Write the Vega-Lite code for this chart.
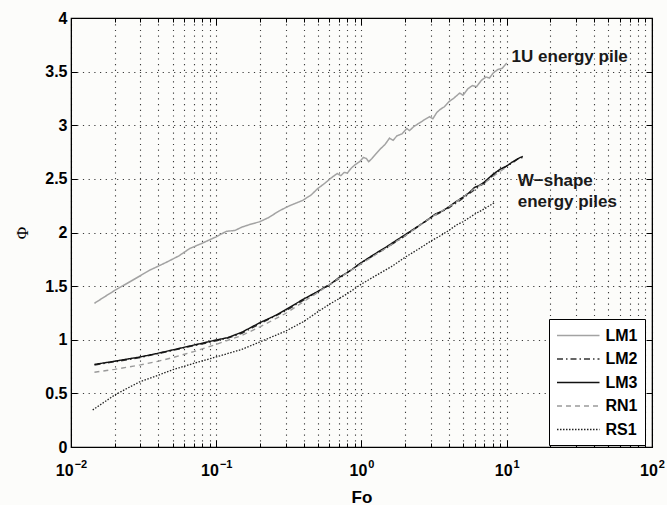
{
  "$schema": "https://vega.github.io/schema/vega-lite/v6.json",
  "width": 581,
  "height": 429,
  "autosize": {"type": "none"},
  "padding": {"left": 71, "top": 18, "right": 15, "bottom": 58},
  "background": "#fcfcfa",
  "config": {
    "view": {"stroke": "#000000", "strokeWidth": 1.2},
    "font": "Liberation Sans",
    "axis": {
      "domainColor": "#000000",
      "tickColor": "#000000",
      "labelColor": "#000000",
      "titleColor": "#000000",
      "gridColor": "#3a3a3a",
      "gridDash": [1.2, 4.5],
      "gridOpacity": 1,
      "gridWidth": 1.1
    }
  },
  "datasets": {
    "curves": [
      {"s": "LM1", "fo": 0.0145, "phi": 1.34}, {"s": "LM1", "fo": 0.017, "phi": 1.40}, {"s": "LM1", "fo": 0.02, "phi": 1.46},
      {"s": "LM1", "fo": 0.0267, "phi": 1.557}, {"s": "LM1", "fo": 0.035, "phi": 1.65}, {"s": "LM1", "fo": 0.045, "phi": 1.72},
      {"s": "LM1", "fo": 0.055, "phi": 1.78}, {"s": "LM1", "fo": 0.0655, "phi": 1.85}, {"s": "LM1", "fo": 0.08, "phi": 1.90},
      {"s": "LM1", "fo": 0.1, "phi": 1.96}, {"s": "LM1", "fo": 0.117, "phi": 2.01}, {"s": "LM1", "fo": 0.135, "phi": 2.02},
      {"s": "LM1", "fo": 0.15, "phi": 2.05}, {"s": "LM1", "fo": 0.175, "phi": 2.08}, {"s": "LM1", "fo": 0.199, "phi": 2.10},
      {"s": "LM1", "fo": 0.23, "phi": 2.14}, {"s": "LM1", "fo": 0.27, "phi": 2.20}, {"s": "LM1", "fo": 0.32, "phi": 2.25},
      {"s": "LM1", "fo": 0.394, "phi": 2.30}, {"s": "LM1", "fo": 0.45, "phi": 2.35}, {"s": "LM1", "fo": 0.5, "phi": 2.41},
      {"s": "LM1", "fo": 0.56, "phi": 2.46}, {"s": "LM1", "fo": 0.62, "phi": 2.51}, {"s": "LM1", "fo": 0.68, "phi": 2.55},
      {"s": "LM1", "fo": 0.72, "phi": 2.53}, {"s": "LM1", "fo": 0.76, "phi": 2.56}, {"s": "LM1", "fo": 0.8, "phi": 2.555},
      {"s": "LM1", "fo": 0.85, "phi": 2.60}, {"s": "LM1", "fo": 0.9, "phi": 2.63}, {"s": "LM1", "fo": 0.97, "phi": 2.66},
      {"s": "LM1", "fo": 1.03, "phi": 2.70}, {"s": "LM1", "fo": 1.08, "phi": 2.69}, {"s": "LM1", "fo": 1.12, "phi": 2.66},
      {"s": "LM1", "fo": 1.18, "phi": 2.69}, {"s": "LM1", "fo": 1.25, "phi": 2.73}, {"s": "LM1", "fo": 1.35, "phi": 2.78},
      {"s": "LM1", "fo": 1.45, "phi": 2.82}, {"s": "LM1", "fo": 1.56, "phi": 2.88}, {"s": "LM1", "fo": 1.65, "phi": 2.86},
      {"s": "LM1", "fo": 1.75, "phi": 2.90}, {"s": "LM1", "fo": 1.9, "phi": 2.92}, {"s": "LM1", "fo": 2.05, "phi": 2.97},
      {"s": "LM1", "fo": 2.14, "phi": 2.95}, {"s": "LM1", "fo": 2.3, "phi": 2.99}, {"s": "LM1", "fo": 2.5, "phi": 3.02},
      {"s": "LM1", "fo": 2.7, "phi": 3.05}, {"s": "LM1", "fo": 2.94, "phi": 3.08}, {"s": "LM1", "fo": 3.1, "phi": 3.06},
      {"s": "LM1", "fo": 3.3, "phi": 3.12}, {"s": "LM1", "fo": 3.5, "phi": 3.15}, {"s": "LM1", "fo": 3.7, "phi": 3.17},
      {"s": "LM1", "fo": 4.0, "phi": 3.22}, {"s": "LM1", "fo": 4.3, "phi": 3.25}, {"s": "LM1", "fo": 4.74, "phi": 3.30},
      {"s": "LM1", "fo": 5.0, "phi": 3.28}, {"s": "LM1", "fo": 5.4, "phi": 3.34}, {"s": "LM1", "fo": 5.8, "phi": 3.37},
      {"s": "LM1", "fo": 6.2, "phi": 3.36}, {"s": "LM1", "fo": 6.7, "phi": 3.42}, {"s": "LM1", "fo": 7.2, "phi": 3.45},
      {"s": "LM1", "fo": 7.6, "phi": 3.44}, {"s": "LM1", "fo": 8.1, "phi": 3.49}, {"s": "LM1", "fo": 8.7, "phi": 3.52},
      {"s": "LM1", "fo": 9.3, "phi": 3.53}, {"s": "LM1", "fo": 10.0, "phi": 3.58},

      {"s": "LM2", "fo": 0.0145, "phi": 0.765}, {"s": "LM2", "fo": 0.02, "phi": 0.795}, {"s": "LM2", "fo": 0.03, "phi": 0.835},
      {"s": "LM2", "fo": 0.05, "phi": 0.90}, {"s": "LM2", "fo": 0.07, "phi": 0.945}, {"s": "LM2", "fo": 0.1, "phi": 0.99},
      {"s": "LM2", "fo": 0.12, "phi": 1.015}, {"s": "LM2", "fo": 0.15, "phi": 1.06}, {"s": "LM2", "fo": 0.2, "phi": 1.15},
      {"s": "LM2", "fo": 0.3, "phi": 1.27}, {"s": "LM2", "fo": 0.4, "phi": 1.37}, {"s": "LM2", "fo": 0.5, "phi": 1.45},
      {"s": "LM2", "fo": 0.7, "phi": 1.57}, {"s": "LM2", "fo": 1.0, "phi": 1.72}, {"s": "LM2", "fo": 1.5, "phi": 1.86},
      {"s": "LM2", "fo": 2.0, "phi": 1.97}, {"s": "LM2", "fo": 3.0, "phi": 2.14}, {"s": "LM2", "fo": 4.0, "phi": 2.23},
      {"s": "LM2", "fo": 5.0, "phi": 2.32}, {"s": "LM2", "fo": 6.0, "phi": 2.40}, {"s": "LM2", "fo": 7.0, "phi": 2.46},
      {"s": "LM2", "fo": 8.0, "phi": 2.53}, {"s": "LM2", "fo": 9.0, "phi": 2.58}, {"s": "LM2", "fo": 10.0, "phi": 2.62},
      {"s": "LM2", "fo": 11.0, "phi": 2.65}, {"s": "LM2", "fo": 12.0, "phi": 2.69}, {"s": "LM2", "fo": 12.9, "phi": 2.70},

      {"s": "LM3", "fo": 0.0145, "phi": 0.77}, {"s": "LM3", "fo": 0.02, "phi": 0.80}, {"s": "LM3", "fo": 0.03, "phi": 0.84},
      {"s": "LM3", "fo": 0.04, "phi": 0.875}, {"s": "LM3", "fo": 0.05, "phi": 0.905}, {"s": "LM3", "fo": 0.07, "phi": 0.95},
      {"s": "LM3", "fo": 0.1, "phi": 0.998}, {"s": "LM3", "fo": 0.12, "phi": 1.02}, {"s": "LM3", "fo": 0.15, "phi": 1.07},
      {"s": "LM3", "fo": 0.2, "phi": 1.16}, {"s": "LM3", "fo": 0.25, "phi": 1.22}, {"s": "LM3", "fo": 0.3, "phi": 1.28},
      {"s": "LM3", "fo": 0.4, "phi": 1.38}, {"s": "LM3", "fo": 0.5, "phi": 1.45}, {"s": "LM3", "fo": 0.6, "phi": 1.51},
      {"s": "LM3", "fo": 0.7, "phi": 1.58}, {"s": "LM3", "fo": 0.85, "phi": 1.65}, {"s": "LM3", "fo": 1.0, "phi": 1.72},
      {"s": "LM3", "fo": 1.2, "phi": 1.79}, {"s": "LM3", "fo": 1.5, "phi": 1.87}, {"s": "LM3", "fo": 1.75, "phi": 1.93},
      {"s": "LM3", "fo": 2.0, "phi": 1.98}, {"s": "LM3", "fo": 2.4, "phi": 2.05}, {"s": "LM3", "fo": 2.8, "phi": 2.11},
      {"s": "LM3", "fo": 3.2, "phi": 2.17}, {"s": "LM3", "fo": 3.6, "phi": 2.20}, {"s": "LM3", "fo": 4.0, "phi": 2.24},
      {"s": "LM3", "fo": 4.5, "phi": 2.29}, {"s": "LM3", "fo": 5.0, "phi": 2.33}, {"s": "LM3", "fo": 5.5, "phi": 2.37},
      {"s": "LM3", "fo": 6.0, "phi": 2.42}, {"s": "LM3", "fo": 6.5, "phi": 2.44}, {"s": "LM3", "fo": 7.0, "phi": 2.47},
      {"s": "LM3", "fo": 8.0, "phi": 2.54}, {"s": "LM3", "fo": 9.0, "phi": 2.59}, {"s": "LM3", "fo": 10.0, "phi": 2.62},
      {"s": "LM3", "fo": 11.0, "phi": 2.66}, {"s": "LM3", "fo": 12.0, "phi": 2.69}, {"s": "LM3", "fo": 12.9, "phi": 2.71},

      {"s": "RN1", "fo": 0.0145, "phi": 0.697}, {"s": "RN1", "fo": 0.02, "phi": 0.724}, {"s": "RN1", "fo": 0.03, "phi": 0.765},
      {"s": "RN1", "fo": 0.04, "phi": 0.80}, {"s": "RN1", "fo": 0.05, "phi": 0.833}, {"s": "RN1", "fo": 0.07, "phi": 0.89},
      {"s": "RN1", "fo": 0.1, "phi": 0.957}, {"s": "RN1", "fo": 0.15, "phi": 1.04}, {"s": "RN1", "fo": 0.2, "phi": 1.12},
      {"s": "RN1", "fo": 0.3, "phi": 1.245}, {"s": "RN1", "fo": 0.4, "phi": 1.355}, {"s": "RN1", "fo": 0.5, "phi": 1.44},
      {"s": "RN1", "fo": 0.7, "phi": 1.575}, {"s": "RN1", "fo": 1.0, "phi": 1.71}, {"s": "RN1", "fo": 1.5, "phi": 1.86},
      {"s": "RN1", "fo": 2.0, "phi": 1.97}, {"s": "RN1", "fo": 3.0, "phi": 2.14}, {"s": "RN1", "fo": 4.0, "phi": 2.24},
      {"s": "RN1", "fo": 5.0, "phi": 2.33}, {"s": "RN1", "fo": 6.0, "phi": 2.41}, {"s": "RN1", "fo": 7.0, "phi": 2.46},
      {"s": "RN1", "fo": 8.0, "phi": 2.52}, {"s": "RN1", "fo": 9.0, "phi": 2.57}, {"s": "RN1", "fo": 10.0, "phi": 2.61},

      {"s": "RS1", "fo": 0.0141, "phi": 0.345}, {"s": "RS1", "fo": 0.017, "phi": 0.42}, {"s": "RS1", "fo": 0.02, "phi": 0.485},
      {"s": "RS1", "fo": 0.025, "phi": 0.555}, {"s": "RS1", "fo": 0.03, "phi": 0.61}, {"s": "RS1", "fo": 0.04, "phi": 0.67},
      {"s": "RS1", "fo": 0.05, "phi": 0.72}, {"s": "RS1", "fo": 0.07, "phi": 0.78}, {"s": "RS1", "fo": 0.1, "phi": 0.84},
      {"s": "RS1", "fo": 0.15, "phi": 0.91}, {"s": "RS1", "fo": 0.2, "phi": 0.98}, {"s": "RS1", "fo": 0.3, "phi": 1.08},
      {"s": "RS1", "fo": 0.4, "phi": 1.17}, {"s": "RS1", "fo": 0.5, "phi": 1.26}, {"s": "RS1", "fo": 0.6, "phi": 1.33},
      {"s": "RS1", "fo": 0.8, "phi": 1.43}, {"s": "RS1", "fo": 1.0, "phi": 1.52}, {"s": "RS1", "fo": 1.3, "phi": 1.61},
      {"s": "RS1", "fo": 1.6, "phi": 1.68}, {"s": "RS1", "fo": 2.0, "phi": 1.77}, {"s": "RS1", "fo": 2.5, "phi": 1.85},
      {"s": "RS1", "fo": 3.0, "phi": 1.92}, {"s": "RS1", "fo": 3.5, "phi": 1.97}, {"s": "RS1", "fo": 4.0, "phi": 2.02},
      {"s": "RS1", "fo": 4.5, "phi": 2.07}, {"s": "RS1", "fo": 5.0, "phi": 2.10}, {"s": "RS1", "fo": 6.0, "phi": 2.17},
      {"s": "RS1", "fo": 7.0, "phi": 2.22}, {"s": "RS1", "fo": 8.26, "phi": 2.28}
    ],
    "notes": [
      {"fo": 10.8, "phi": 3.64, "text": "1U energy pile"},
      {"fo": 11.9, "phi": 2.48, "text": "W−shape"},
      {"fo": 11.9, "phi": 2.285, "text": "energy piles"}
    ]
  },
  "layer": [
    {
      "data": {"name": "curves"},
      "mark": {"type": "line", "interpolate": "linear"},
      "encoding": {
        "x": {
          "field": "fo", "type": "quantitative",
          "scale": {"type": "log", "domain": [0.01, 100], "nice": false},
          "axis": {
            "orient": "bottom",
            "values": [0.01, 0.02, 0.03, 0.04, 0.05, 0.06, 0.07, 0.08, 0.09, 0.1, 0.2, 0.3, 0.4, 0.5, 0.6, 0.7, 0.8, 0.9, 1, 2, 3, 4, 5, 6, 7, 8, 9, 10, 20, 30, 40, 50, 60, 70, 80, 90, 100],
            "labelExpr": "indexof([0.01, 0.1, 1, 10, 100], datum.value) >= 0 ? '10' : ''",
            "labelFont": "Liberation Sans",
            "labelFontSize": 16,
            "labelFontWeight": "bold",
            "labelOverlap": false,
            "labelFlush": false,
            "labelPadding": 22,
            "labelOffset": {"condition": {"test": "datum.value < 0.5", "value": -6.8}, "value": -3.6},
            "tickSize": {"condition": {"test": "indexof([0.01, 0.1, 1, 10, 100], datum.value) >= 0", "value": -7}, "value": -4},
            "grid": true,
            "title": "Fo",
            "titleFont": "Liberation Sans",
            "titleFontSize": 17,
            "titleFontWeight": "bold",
            "titleX": 290.5,
            "titleY": 55,
            "titleBaseline": "alphabetic"
          }
        },
        "y": {
          "field": "phi", "type": "quantitative",
          "scale": {"domain": [0, 4], "nice": false},
          "axis": {
            "orient": "left",
            "values": [0, 0.5, 1, 1.5, 2, 2.5, 3, 3.5, 4],
            "format": "~g",
            "labelFont": "Liberation Sans",
            "labelFontSize": 16,
            "labelFontWeight": "bold",
            "tickSize": -6,
            "labelPadding": 10,
            "grid": true,
            "title": "Φ",
            "titleFont": "Liberation Serif",
            "titleFontSize": 17,
            "titleFontWeight": "normal",
            "titleX": -49,
            "titleY": 214.5,
            "titleAlign": "center",
            "titleBaseline": "middle"
          }
        },
        "color": {
          "field": "s", "type": "nominal",
          "scale": {"domain": ["LM1", "LM2", "LM3", "RN1", "RS1"], "range": ["#a3a3a3", "#333333", "#111111", "#9a9a9a", "#222222"]},
          "legend": {
            "title": null,
            "orient": "none",
            "legendX": 478,
            "legendY": 301,
            "symbolType": "M-1,0H4",
            "symbolSize": 289,
            "symbolStrokeWidth": 1.6,
            "labelFont": "Liberation Sans",
            "labelFontSize": 16,
            "labelFontWeight": "bold",
            "labelColor": "#000000",
            "labelOffset": 30.5,
            "strokeColor": "#000000",
            "fillColor": "#ffffff",
            "padding": 7,
            "rowPadding": 5.5,
            "cornerRadius": 0
          }
        },
        "strokeDash": {
          "field": "s", "type": "nominal",
          "scale": {"domain": ["LM1", "LM2", "LM3", "RN1", "RS1"], "range": [[1, 0], [6, 3, 1.5, 3], [1, 0], [5, 4], [1.5, 1.5]]}
        },
        "strokeWidth": {
          "field": "s", "type": "nominal",
          "scale": {"domain": ["LM1", "LM2", "LM3", "RN1", "RS1"], "range": [1.5, 1.3, 1.8, 1.3, 1.5]},
          "legend": null
        }
      }
    },
    {
      "data": {"name": "curves"},
      "mark": {"type": "point", "opacity": 0},
      "encoding": {
        "x": {
          "field": "fo", "type": "quantitative",
          "axis": {
            "orient": "top",
            "values": [0.01, 0.02, 0.03, 0.04, 0.05, 0.06, 0.07, 0.08, 0.09, 0.1, 0.2, 0.3, 0.4, 0.5, 0.6, 0.7, 0.8, 0.9, 1, 2, 3, 4, 5, 6, 7, 8, 9, 10, 20, 30, 40, 50, 60, 70, 80, 90, 100],
            "labels": false,
            "grid": false,
            "title": null,
            "tickSize": {"condition": {"test": "indexof([0.01, 0.1, 1, 10, 100], datum.value) >= 0", "value": -7}, "value": -4}
          }
        },
        "y": {
          "field": "phi", "type": "quantitative",
          "axis": {
            "orient": "right",
            "values": [0, 0.5, 1, 1.5, 2, 2.5, 3, 3.5, 4],
            "labels": false,
            "grid": false,
            "title": null,
            "tickSize": -6
          }
        }
      }
    },
    {
      "data": {"name": "curves"},
      "mark": {"type": "point", "opacity": 0},
      "encoding": {
        "x": {
          "field": "fo", "type": "quantitative",
          "axis": {
            "orient": "bottom",
            "values": [0.01, 0.1, 1, 10, 100],
            "labelExpr": "datum.value == 0.01 ? '−2' : datum.value == 0.1 ? '−1' : datum.value == 1 ? '0' : datum.value == 10 ? '1' : '2'",
            "labelFont": "Liberation Sans",
            "labelFontSize": 11,
            "labelFontWeight": "bold",
            "labelOverlap": false,
            "labelFlush": false,
            "labelPadding": 11,
            "labelOffset": 9.4,
            "ticks": false,
            "tickSize": 0,
            "domain": false,
            "grid": false,
            "title": null
          }
        },
        "y": {"field": "phi", "type": "quantitative", "axis": null}
      }
    },
    {
      "data": {"name": "notes"},
      "mark": {"type": "text", "align": "left", "baseline": "middle", "font": "Liberation Sans", "fontSize": 17, "fontWeight": "bold", "color": "#1a1a1a"},
      "encoding": {
        "x": {"field": "fo", "type": "quantitative", "axis": null},
        "y": {"field": "phi", "type": "quantitative", "axis": null},
        "text": {"field": "text"}
      }
    }
  ],
  "resolve": {"axis": {"x": "independent", "y": "independent"}}
}
